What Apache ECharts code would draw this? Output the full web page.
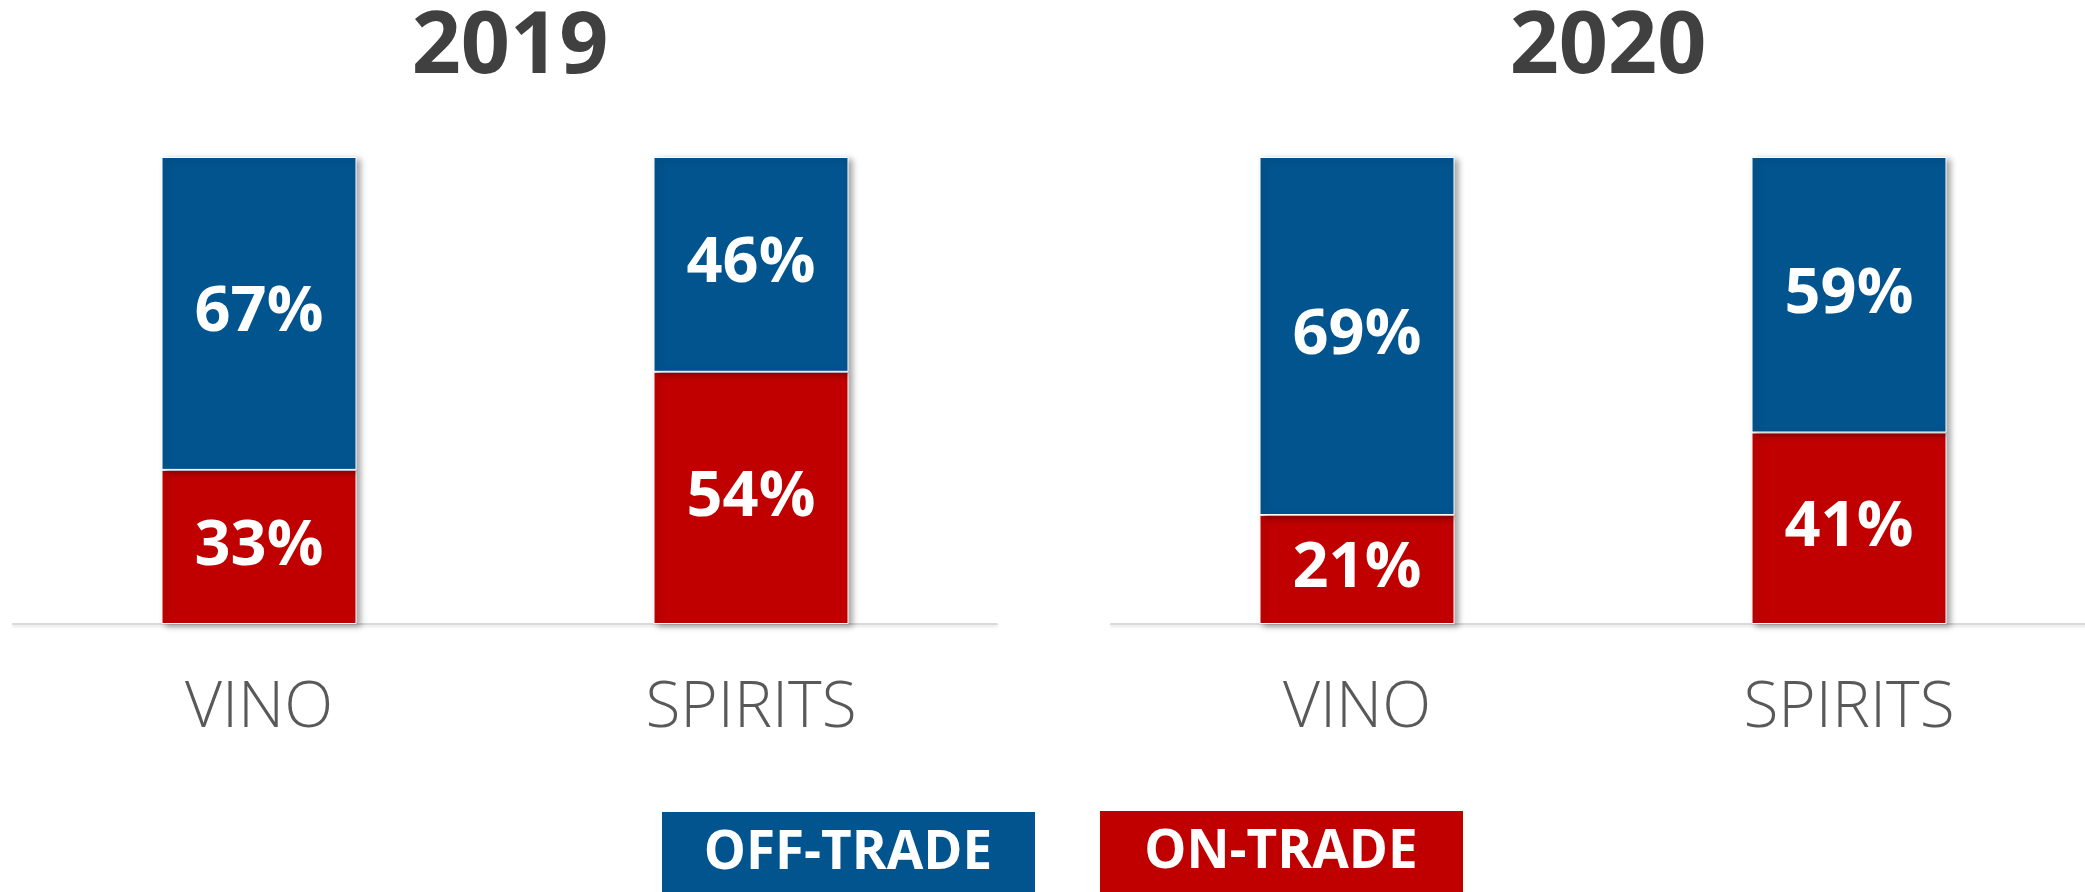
<!DOCTYPE html>
<html lang="en">
<head>
    <meta charset="UTF-8">
    <title>Off-trade / On-trade</title>
    <script src="https://cdn.jsdelivr.net/npm/echarts@6/dist/echarts.min.js"></script>
    <style>
        html, body { margin: 0; padding: 0; background: #fff; overflow: hidden; }
        /* l'asse del 2020 prosegue oltre il bordo destro */
        #main { width: 2095px; height: 892px; }
    </style>
</head>
<body>
<div id="main"></div>
<script type="text/javascript">
    // dati
    var categories = ['VINO', 'SPIRITS'];
    var years = ['2019', '2020'];
    var seriesNames = ['OFF-TRADE', 'ON-TRADE'];
    var offTrade2019 = [67, 46];
    var onTrade2019 = [33, 54];
    var offTrade2020 = [69, 59];
    var onTrade2020 = [21, 41];

    var blue = '#02548f';
    var red = '#c00000';
    var font = '"Open Sans", "Noto Sans", sans-serif';

    // barre al 100%: altezza = quota sul totale, etichetta = valore letto
    function shares(part, other) {
        return part.map(function (v, i) {
            return { value: v / (v + other[i]) * 100, raw: v };
        });
    }

    var byYear = [
        { off: offTrade2019, on: onTrade2019 },
        { off: offTrade2020, on: onTrade2020 }
    ];

    var grids = [
        { left: 13, width: 984, top: 157, height: 467 },
        { left: 1111, width: 984, top: 157, height: 467 }
    ];

    var myChart = echarts.init(document.getElementById('main'));

    var itemShadow = {
        borderColor: '#ffffff',
        borderWidth: 1,
        shadowColor: 'rgba(0, 0, 0, 0.35)',
        shadowBlur: 6,
        shadowOffsetX: 4,
        shadowOffsetY: 2
    };

    var labelStyle = {
        show: true,
        position: 'inside',
        color: '#ffffff',
        fontFamily: font,
        fontWeight: 'bold',
        fontSize: 63,
        formatter: function (p) { return p.data.raw + '%'; }
    };

    var series = [];
    byYear.forEach(function (d, i) {
        series.push({
            name: seriesNames[1],
            type: 'bar',
            xAxisIndex: i,
            yAxisIndex: i,
            stack: 'y' + i,
            barWidth: 195,
            data: shares(d.on, d.off),
            itemStyle: Object.assign({ color: red }, itemShadow),
            label: labelStyle
        });
        series.push({
            name: seriesNames[0],
            type: 'bar',
            xAxisIndex: i,
            yAxisIndex: i,
            stack: 'y' + i,
            barWidth: 195,
            data: shares(d.off, d.on),
            itemStyle: Object.assign({ color: blue }, itemShadow),
            label: labelStyle
        });
    });

    var option = {
        backgroundColor: '#ffffff',
        animation: false,
        title: years.map(function (y, i) {
            return {
                text: y,
                left: grids[i].left + grids[i].width / 2,
                textAlign: 'center',
                top: 0,
                textStyle: {
                    color: '#404040',
                    fontFamily: font,
                    fontWeight: 'bold',
                    fontSize: 86
                }
            };
        }),
        grid: grids,
        xAxis: grids.map(function (g, i) {
            return {
                type: 'category',
                gridIndex: i,
                data: categories,
                axisTick: { show: false },
                axisLine: {
                    lineStyle: {
                        color: '#d9d9d9',
                        width: 2,
                        shadowColor: 'rgba(0, 0, 0, 0.12)',
                        shadowBlur: 3,
                        shadowOffsetY: 2
                    }
                },
                axisLabel: {
                    margin: 53,
                    color: '#595959',
                    fontFamily: font,
                    fontWeight: 300,
                    fontSize: 64
                }
            };
        }),
        yAxis: grids.map(function (g, i) {
            return {
                type: 'value',
                gridIndex: i,
                min: 0,
                max: 100,
                show: false,
                splitLine: { show: false }
            };
        }),
        series: series,
        // legenda a riquadri colorati
        graphic: [
            {
                type: 'group',
                children: [
                    {
                        type: 'rect',
                        shape: { x: 662, y: 812, width: 373, height: 90 },
                        style: { fill: blue }
                    },
                    {
                        type: 'text',
                        x: 848, y: 854,
                        style: {
                            text: seriesNames[0],
                            fill: '#ffffff',
                            font: 'bold 53px ' + font,
                            textAlign: 'center',
                            textVerticalAlign: 'middle'
                        }
                    },
                    {
                        type: 'rect',
                        shape: { x: 1100, y: 811, width: 363, height: 90 },
                        style: { fill: red }
                    },
                    {
                        type: 'text',
                        x: 1281, y: 853,
                        style: {
                            text: seriesNames[1],
                            fill: '#ffffff',
                            font: 'bold 53px ' + font,
                            textAlign: 'center',
                            textVerticalAlign: 'middle'
                        }
                    }
                ]
            }
        ]
    };

    myChart.setOption(option);
</script>
</body>
</html>
